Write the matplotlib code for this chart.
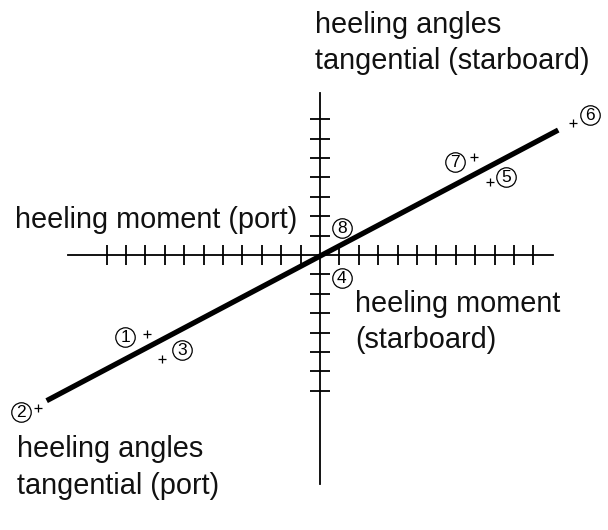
import matplotlib
matplotlib.use("Agg")
import matplotlib.pyplot as plt

plt.rcParams['font.family'] = ['Liberation Sans', 'DejaVu Sans']

# axis extents and ticks (in tick units)
h_axis = [-13.0, 12.0]
v_axis = [-11.8, 8.37]
h_ticks = [i for i in range(-11, 12) if i != 0]
v_ticks = [i for i in range(-7, 8) if i != 0]

# regression line end points
line_x = [-14.09, 12.28]
line_y = [-7.51, 6.44]

# measured points (+) and their numbers
point_ids = [1, 2, 3, 5, 6, 7]
point_x = [-8.93, -14.55, -8.13, 8.76, 13.06, 7.95]
point_y = [-4.07, -7.90, -5.36, 3.78, 6.82, 5.04]

label_ids = [1, 2, 3, 4, 5, 6, 7, 8]
label_x = [-10.05, -15.43, -7.13, 1.12, 9.59, 13.92, 6.96, 1.12]
label_y = [-4.24, -8.08, -4.90, -1.20, 4.04, 7.22, 4.81, 1.38]

captions = ["heeling angles\ntangential (starboard)",
            "heeling moment (port)",
            "heeling moment\n(starboard)",
            "heeling angles\ntangential (port)"]
caption_x = [-0.26, -15.72, 1.80, -15.64]
caption_y = [10.93, 1.80, -3.44, -10.95]

fig = plt.figure(figsize=(6.08, 5.30), dpi=100)
ax = fig.add_axes([0, 0, 1, 1])
ax.set_xlim(-320 / 19.4, 288 / 19.4)
ax.set_ylim(-275 / 19.4, 255 / 19.4)
ax.axis('off')

# axes with ticks
ax.plot(h_axis, [0, 0], color='black', lw=1.3)
ax.plot([0, 0], v_axis, color='black', lw=1.3)
ax.vlines(h_ticks, -0.52, 0.52, color='black', lw=1.3)
ax.hlines(v_ticks, -0.52, 0.52, color='black', lw=1.3)

# thick line
ax.plot(line_x, line_y, color='black', lw=3.8, solid_capstyle='butt')

# points
ax.plot(point_x, point_y, '+', color='black', ms=6, mew=0.9)

# circled numbers
ax.plot(label_x, label_y, 'o', ms=14, mfc='white', mec='black', mew=0.9)
for n, x, y in zip(label_ids, label_x, label_y):
    ax.text(x, y - 0.03, str(n), ha='center', va='center', fontsize=12.5)

for txt, x, y in zip(captions, caption_x, caption_y):
    ax.text(x, y, txt, ha='left', va='center', fontsize=20.8,
            linespacing=1.38, color='#111111')

fig.savefig('out.png', dpi=100)
